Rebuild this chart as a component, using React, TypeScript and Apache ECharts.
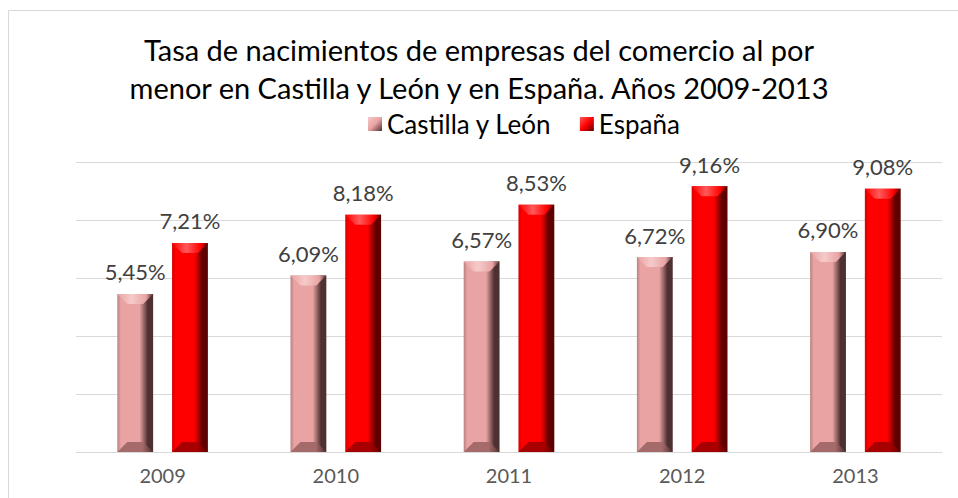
import React, { useEffect, useRef } from "react";
import * as echarts from "echarts";

const categories = ["2009", "2010", "2011", "2012", "2013"];
const castilla = [5.45, 6.09, 6.57, 6.72, 6.9];
const espana = [7.21, 8.18, 8.53, 9.16, 9.08];
const seriesNames = ["Castilla y León", "España"];
const titleText =
  "Tasa de nacimientos de empresas del comercio al por\nmenor en Castilla y León y en España. Años 2009-2013";

const FONT = "Lato";

type Palette = { left: string; mid: string; right: string; top: string; bottom: string };
const palCastilla: Palette = { left: "#B88080", mid: "#E9A3A3", right: "#4E3030", top: "#F6CACA", bottom: "#A56A6A" };
const palEspana: Palette = { left: "#D80000", mid: "#FF0000", right: "#5E0000", top: "#FF5A5A", bottom: "#A80000" };

function fmt(v: number) {
  return v.toFixed(2).replace(".", ",") + "%";
}

function makeRender(pal: Palette, sign: number) {
  return (params: any, api: any) => {
    const cat = api.value(0);
    const val = api.value(1);
    const base = api.coord([cat, 0]);
    const top = api.coord([cat, val]);
    const band = api.size([1, 0])[0];
    const w = (band * 36) / 174;
    const cx = base[0] + (sign * band * 27.5) / 174;
    const L = cx - w / 2;
    const R = cx + w / 2;
    const T = top[1];
    const B = base[1];
    const b = 10;
    const bodyFill = new echarts.graphic.LinearGradient(0, 0, 1, 0, [
      { offset: 0, color: pal.left },
      { offset: 0.1, color: pal.mid },
      { offset: 0.62, color: pal.mid },
      { offset: 0.85, color: pal.right },
      { offset: 1, color: pal.right },
    ]);
    return {
      type: "group",
      children: [
        { type: "rect", shape: { x: L, y: T, width: w, height: B - T }, style: { fill: bodyFill } },
        {
          type: "polygon",
          shape: { points: [[L, T], [R, T], [R - b, T + b], [L + b, T + b]] },
          style: {
            fill: new echarts.graphic.LinearGradient(0, 0, 1, 0, [
              { offset: 0, color: pal.mid },
              { offset: 0.4, color: pal.top },
              { offset: 0.8, color: pal.mid },
              { offset: 1, color: pal.right },
            ]),
          },
        },
        {
          type: "polygon",
          shape: { points: [[L, B], [R, B], [R - b, B - b], [L + b, B - b]] },
          style: {
            fill: new echarts.graphic.LinearGradient(0, 0, 1, 0, [
              { offset: 0, color: pal.bottom },
              { offset: 0.7, color: pal.bottom },
              { offset: 1, color: pal.right },
            ]),
          },
        },
        {
          type: "text",
          style: {
            text: fmt(val),
            x: cx,
            y: T - 11,
            align: "center",
            verticalAlign: "bottom",
            fontSize: 22,
            fontFamily: FONT,
            fill: "#404040",
          },
        },
      ],
    };
  };
}

export default function App() {
  const ref = useRef<HTMLDivElement>(null);
  useEffect(() => {
    if (!ref.current) return;
    const chart = echarts.init(ref.current, null, { renderer: "svg" });
    const legendIcon = (pal: Palette) =>
      new echarts.graphic.LinearGradient(0, 0, 1, 1, [
        { offset: 0, color: pal.top },
        { offset: 0.5, color: pal.mid },
        { offset: 1, color: pal.right },
      ]);
    chart.setOption({
      animation: false,
      backgroundColor: "#ffffff",
      title: {
        text: titleText,
        left: "center",
        top: 30,
        padding: 0,
        textStyle: { fontSize: 29, fontWeight: "normal", fontFamily: FONT, color: "#000000", lineHeight: 38 },
      },
      legend: {
        top: 111,
        left: 368,
        padding: 0,
        itemWidth: 14,
        itemHeight: 14,
        itemGap: 28,
        icon: "rect",
        textStyle: { fontSize: 26, fontFamily: FONT, color: "#000000" },
        data: [
          { name: seriesNames[0], itemStyle: { color: legendIcon(palCastilla) } },
          { name: seriesNames[1], itemStyle: { color: legendIcon(palEspana) } },
        ],
      },
      graphic: [
        {
          type: "rect",
          shape: { x: 8.5, y: 10.5, width: 1000, height: 520 },
          style: { fill: "none", stroke: "#D9D9D9", lineWidth: 1 },
          silent: true,
        },
      ],
      grid: { left: 76, right: 16, top: 162, bottom: 46 },
      xAxis: {
        type: "category",
        data: categories,
        axisLine: { lineStyle: { color: "#D9D9D9", width: 1 } },
        axisTick: { show: false },
        axisLabel: { fontSize: 20, fontFamily: FONT, color: "#595959", margin: 13 },
      },
      yAxis: {
        type: "value",
        min: 0,
        max: 10,
        interval: 2,
        axisLabel: { show: false },
        axisLine: { show: false },
        axisTick: { show: false },
        splitLine: { lineStyle: { color: "#D9D9D9", width: 1 } },
      },
      series: [
        {
          name: seriesNames[0],
          type: "custom",
          itemStyle: { color: palCastilla.mid },
          encode: { x: 0, y: 1 },
          data: castilla.map((v, i) => [i, v]),
          renderItem: makeRender(palCastilla, -1),
        },
        {
          name: seriesNames[1],
          type: "custom",
          itemStyle: { color: palEspana.mid },
          encode: { x: 0, y: 1 },
          data: espana.map((v, i) => [i, v]),
          renderItem: makeRender(palEspana, 1),
        },
      ],
    });
    return () => chart.dispose();
  }, []);
  return (
    <div
      ref={ref}
      style={{ position: "absolute", left: 0, top: 0, width: 958, height: 498 }}
    />
  );
}
